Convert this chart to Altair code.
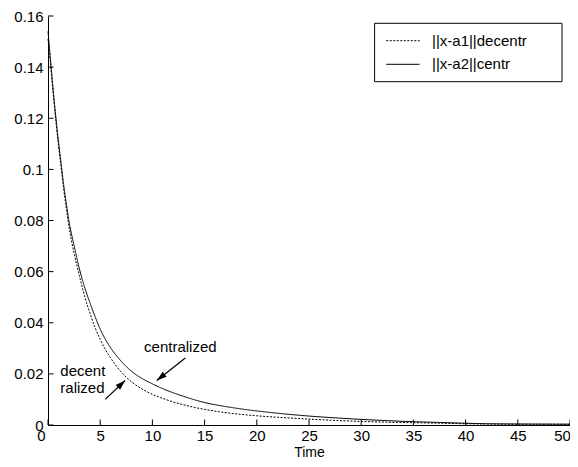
import altair as alt
import pandas as pd

# ---------------- data ----------------
series_names = ["||x-a1||decentr", "||x-a2||centr"]

time_pts = [0, 0.25, 0.5, 0.75, 1, 1.25, 1.5, 1.75, 2, 2.5, 3, 3.5, 4, 4.5, 5,
            5.5, 6, 7, 8, 9, 10, 11, 12, 13, 14, 15, 17.5, 20, 22.5, 25, 27.5,
            30, 32.5, 35, 37.5, 40, 42, 45, 50]
decentr_vals = [0.151, 0.1405, 0.1295, 0.119, 0.1095, 0.101, 0.0925, 0.0848,
                0.0778, 0.0672, 0.0585, 0.0505, 0.0440, 0.0382, 0.0335, 0.0295,
                0.0262, 0.0208, 0.0169, 0.0141, 0.0120, 0.0104, 0.0090, 0.0079,
                0.0069, 0.0061, 0.0046, 0.0036, 0.0029, 0.0023, 0.0018, 0.0014,
                0.0011, 0.0009, 0.0007, 0.0005, 0.0004, 0.0003, 0.0003]
centr_vals = [0.154, 0.1425, 0.131, 0.1205, 0.1110, 0.1025, 0.0940, 0.0868,
              0.0800, 0.0702, 0.0612, 0.0540, 0.0480, 0.0425, 0.0375, 0.0335,
              0.0302, 0.0250, 0.0210, 0.0182, 0.0161, 0.0142, 0.0126, 0.0112,
              0.0099, 0.0088, 0.0069, 0.0055, 0.0044, 0.0035, 0.0028, 0.0022,
              0.0017, 0.0013, 0.0010, 0.0007, 0.0005, 0.0004, 0.0003]

x_ticks = [0, 5, 10, 15, 20, 25, 30, 35, 40, 45, 50]
y_ticks = [0, 0.02, 0.04, 0.06, 0.08, 0.1, 0.12, 0.14, 0.16]

note_labels = ["centralized", "decent", "ralized"]
note_t = [9.2, 1.18, 1.18]
note_v = [0.0306, 0.0213, 0.0143]

arrow_t_from = [13.15, 5.48]
arrow_v_from = [0.0262, 0.0100]
arrow_t_to = [10.42, 7.39]
arrow_v_to = [0.0174, 0.0174]
arrow_angle = [231.6, 46.5]

# ---------------- tables ----------------
curve_df = pd.DataFrame({
    "t": time_pts * 2,
    "v": decentr_vals + centr_vals,
    "series": [series_names[0]] * len(time_pts) + [series_names[1]] * len(time_pts),
})
xtick_df = pd.DataFrame({"t": x_ticks})
ytick_df = pd.DataFrame({"v": y_ticks})
note_df = pd.DataFrame({"t": note_t, "v": note_v, "label": note_labels})
arrow_df = pd.DataFrame({"t": arrow_t_from, "v": arrow_v_from,
                         "t2": arrow_t_to, "v2": arrow_v_to})
head_df = pd.DataFrame({"t": arrow_t_to, "v": arrow_v_to, "ang": arrow_angle})

W, H = 522, 409
FONT = "Liberation Sans"
TICK = 5.5

x_scale = alt.Scale(domain=[0, 50], nice=False, zero=False)
y_scale = alt.Scale(domain=[0, 0.16], nice=False, zero=False)

x_axis = alt.Axis(values=x_ticks, title="Time", ticks=False, grid=False,
                  domainColor="black", domainWidth=1, labelColor="black",
                  labelFontSize=15, labelPadding=3, titleFontSize=14,
                  titleFontWeight="normal", titleColor="black",
                  titleBaseline="alphabetic", titleY=31,
                  labelOffset=alt.expr("datum.value == 0 ? -7 : (datum.value == 50 ? -8 : 0)"),
                  labelFlush=False)
y_axis = alt.Axis(values=y_ticks, title=None, ticks=False, grid=False,
                  domainColor="black", domainWidth=1, labelColor="black",
                  labelFontSize=15, labelPadding=5, format="~g")

X = lambda f: alt.X(f, scale=x_scale, axis=x_axis)
Y = lambda f: alt.Y(f, scale=y_scale, axis=y_axis)

lines = alt.Chart(curve_df).mark_line(color="black", strokeWidth=1,
                                      interpolate="monotone").encode(
    x=X("t:Q"), y=Y("v:Q"),
    strokeDash=alt.StrokeDash("series:N",
                              scale=alt.Scale(domain=series_names, range=[[2, 1.5], [1, 0]]),
                              legend=None),
    detail="series:N",
)

xticks = alt.Chart(xtick_df).mark_rule(color="black", strokeWidth=1).encode(
    x=X("t:Q"), y=alt.value(H), y2=alt.value(H - TICK))
yticks = alt.Chart(ytick_df).mark_rule(color="black", strokeWidth=1).encode(
    y=Y("v:Q"), x=alt.value(0), x2=alt.value(TICK))

notes = alt.Chart(note_df).mark_text(align="left", baseline="middle", fontSize=15,
                                     font=FONT, color="black").encode(
    x=X("t:Q"), y=Y("v:Q"), text="label:N")

arrows = alt.Chart(arrow_df).mark_rule(color="black", strokeWidth=1.2).encode(
    x=X("t:Q"), y=Y("v:Q"), x2="t2:Q", y2="v2:Q")

heads = alt.Chart(head_df).mark_point(
    shape="M0,0L-0.32,1L0.32,1Z", size=400, filled=True, color="black", opacity=1,
    strokeWidth=0).encode(
    x=X("t:Q"), y=Y("v:Q"), angle=alt.Angle("ang:Q", scale=None))

# ---------------- legend box (drawn like MATLAB's) ----------------
one = pd.DataFrame({"k": [0]})
leg_box = alt.Chart(one).mark_rect(fill="white", stroke="black", strokeWidth=1).encode(
    x=alt.value(326.6), x2=alt.value(514), y=alt.value(7.3), y2=alt.value(65.7))
leg_l1 = alt.Chart(one).mark_rule(color="black", strokeWidth=1, strokeDash=[2, 1.5]).encode(
    x=alt.value(338.3), x2=alt.value(371.6), y=alt.value(24.7))
leg_l2 = alt.Chart(one).mark_rule(color="black", strokeWidth=1).encode(
    x=alt.value(338.3), x2=alt.value(371.6), y=alt.value(48.3))
leg_t1 = alt.Chart(one).mark_text(align="left", baseline="middle", fontSize=15,
                                  font=FONT, color="black", text=series_names[0]).encode(
    x=alt.value(384), y=alt.value(24.7))
leg_t2 = alt.Chart(one).mark_text(align="left", baseline="middle", fontSize=15,
                                  font=FONT, color="black", text=series_names[1]).encode(
    x=alt.value(384), y=alt.value(48.3))

chart = alt.layer(lines, xticks, yticks, arrows, heads, notes,
                  leg_box, leg_l1, leg_l2, leg_t1, leg_t2).properties(
    width=W, height=H,
    autosize=alt.AutoSizeParams(type="none"),
    padding={"left": 40, "top": 8, "right": 0, "bottom": 34},
    background="white",
).configure_view(stroke=None).configure_axis(
    labelFont=FONT, titleFont=FONT
)

chart.save("out.html", embed_options={"renderer": "svg", "actions": False})
